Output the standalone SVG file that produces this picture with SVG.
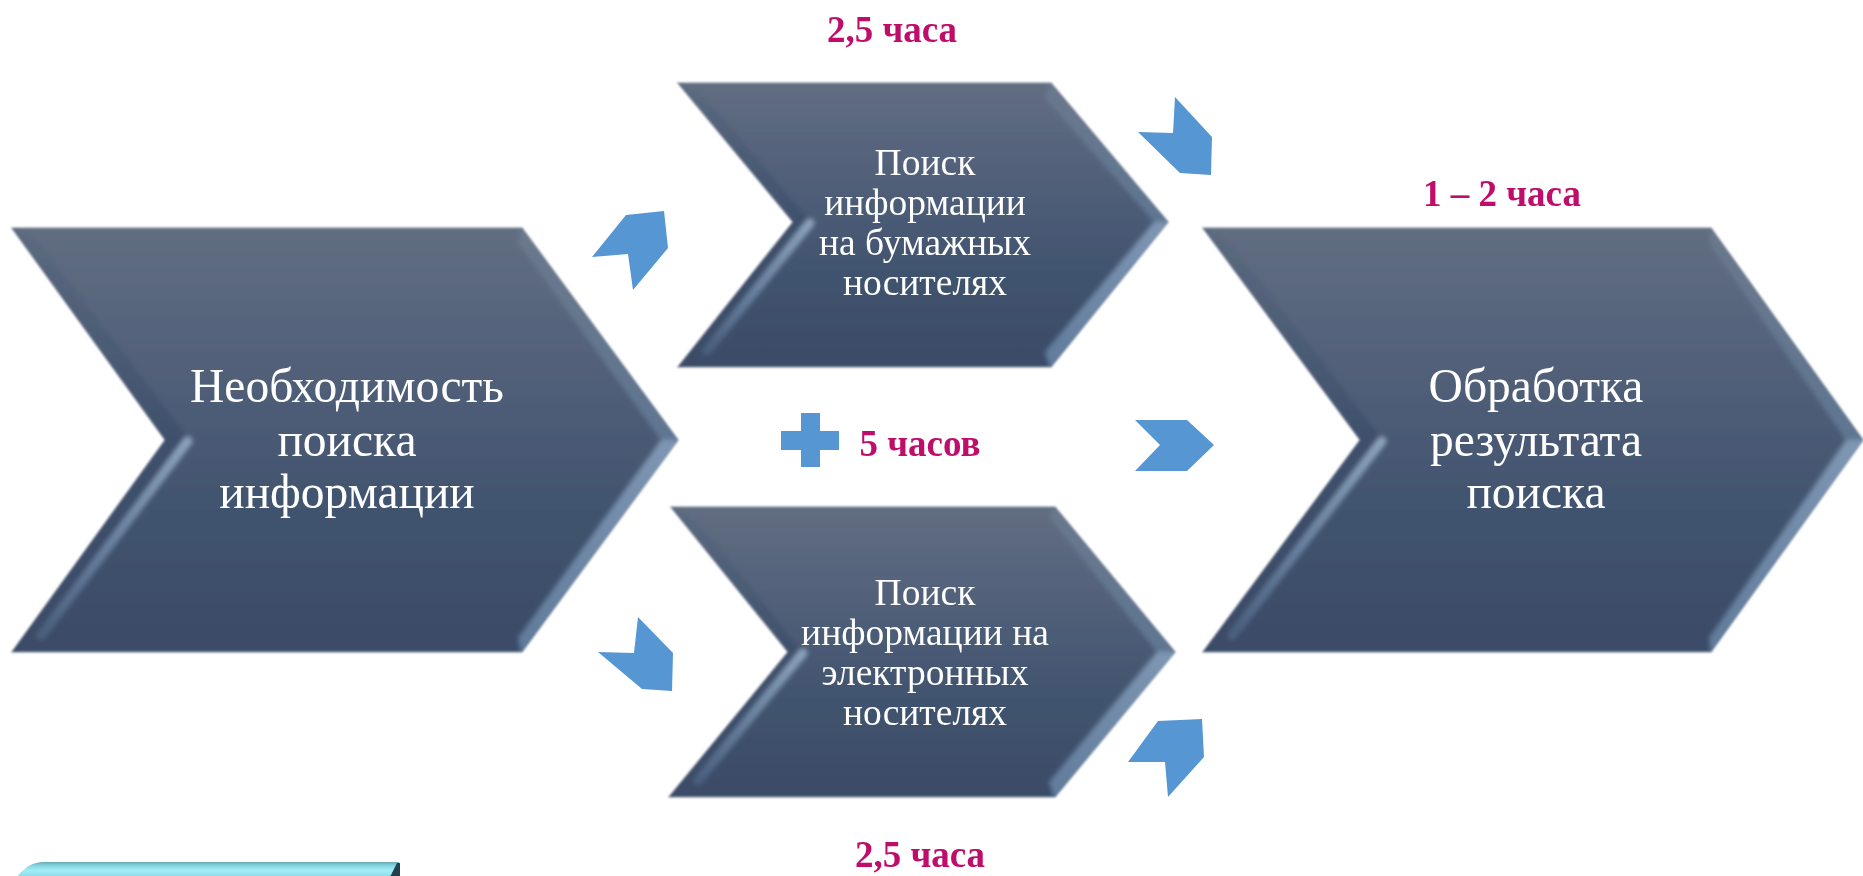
<svg xmlns="http://www.w3.org/2000/svg" width="1863" height="876" viewBox="0 0 1863 876">
<style>
.body{fill:url(#g);stroke:#7f8b9c;stroke-width:1.2}
.tr{fill:url(#gtr)}
.br{fill:url(#gbr)}
.tl{fill:url(#gtl)}
.bl{fill:url(#gdk)}
.hl{fill:none;stroke:url(#ghl);stroke-width:9;stroke-linecap:round}
.arrow{fill:#5496D3}
text{font-family:"Liberation Serif","Times New Roman",serif;text-anchor:middle}
.n{fill:#fff}
.big{font-size:47.5px}
.mid{font-size:37.5px}
.t{fill:#BE0B6A;font-weight:bold;font-size:37px}
</style>
<defs>
<linearGradient id="g" x1="0" y1="0" x2="0" y2="1"><stop offset="0" stop-color="#616e81"/><stop offset=".35" stop-color="#515f79"/><stop offset=".65" stop-color="#42546f"/><stop offset="1" stop-color="#3a4b67"/></linearGradient>
<linearGradient id="gtr" x1="0" y1="0" x2="0" y2="1"><stop offset="0" stop-color="#6b788b"/><stop offset="1" stop-color="#5f7692"/></linearGradient>
<linearGradient id="gbr" x1="0" y1="0" x2="0" y2="1"><stop offset="0" stop-color="#7e97b3"/><stop offset="1" stop-color="#5f7a9a"/></linearGradient>
<linearGradient id="gtl" x1="0" y1="0" x2="0" y2="1"><stop offset="0" stop-color="#5d6b80"/><stop offset="1" stop-color="#3f506c"/></linearGradient>
<linearGradient id="gdk" x1="0" y1="0" x2="0" y2="1"><stop offset="0" stop-color="#3f506c"/><stop offset="1" stop-color="#3b4c68"/></linearGradient>
<linearGradient id="ghl" gradientUnits="objectBoundingBox" x1="0" y1="0" x2="0" y2="1"><stop offset="0" stop-color="#8da3bc"/><stop offset=".6" stop-color="#657d9b"/><stop offset="1" stop-color="#4b5f7d"/></linearGradient>
<linearGradient id="box" x1="0" y1="0" x2="0" y2="1"><stop offset="0" stop-color="#6aa7b3"/><stop offset=".22" stop-color="#7fd3e2"/><stop offset=".55" stop-color="#a5edf6"/><stop offset="1" stop-color="#86dcec"/></linearGradient>
<filter id="soft" x="-2%" y="-2%" width="104%" height="104%"><feGaussianBlur stdDeviation="0.8"/></filter>
<filter id="edge" x="-5%" y="-5%" width="110%" height="110%"><feGaussianBlur stdDeviation="2.2"/></filter>
<filter id="txt" x="-5%" y="-5%" width="110%" height="110%"><feGaussianBlur stdDeviation="0.5"/></filter>
<clipPath id="c1"><polygon points="12,228 522,228 678,440 522,652 12,652 165,440"/></clipPath>
<clipPath id="c2"><polygon points="678,83 1051,83 1168,222 1051,367 678,367 793,222"/></clipPath>
<clipPath id="c3"><polygon points="671,507 1055,507 1175,652 1055,797 669,797 788,652"/></clipPath>
<clipPath id="c4"><polygon points="1203,228 1711,228 1863,440 1711,652 1203,652 1360,440"/></clipPath>
</defs>

<g id="connectors" filter="url(#txt)">
<polygon class="arrow" points="664,211 668,248 633,290 628,254 592,257 626,215"/>
<polygon class="arrow" points="1175,97 1212,137 1211,175 1180,173 1138,132 1173,133"/>
<polygon class="arrow" points="638,617 673,653 672,691 642,689 598,652 634,653"/>
<polygon class="arrow" points="1202,719 1204,757 1168,797 1165,762 1128,762 1158,721"/>
<polygon class="arrow" points="1135,420 1187,420 1214,445 1187,471 1135,471 1160,445"/>
</g>

<g id="node-need">
<g filter="url(#soft)">
<polygon class="body" points="12,228 522,228 678,440 522,652 12,652 165,440"/>
<g clip-path="url(#c1)"><g filter="url(#edge)">
<polygon class="tr" points="522,222 688,440 661,440 518,243"/>
<polygon class="br" points="688,440 522,658 518,638 661,440"/>
<polygon class="tl" points="5,222 165,440 190,440 40,243"/>
<polygon class="bl" points="165,440 5,658 40,638 190,440"/>
<polyline class="hl" points="188,441 41,636"/>
</g></g>
</g>
<g filter="url(#txt)">
<text class="n big" x="347" y="402">Необходимость</text>
<text class="n big" x="347" y="456">поиска</text>
<text class="n big" x="347" y="508">информации</text>
</g>
</g>

<g id="node-paper">
<g filter="url(#soft)">
<polygon class="body" points="678,83 1051,83 1168,222 1051,367 678,367 793,222"/>
<g clip-path="url(#c2)"><g filter="url(#edge)">
<polygon class="tr" points="1051,78 1178,222 1154,222 1045,98"/>
<polygon class="br" points="1178,222 1051,372 1045,352 1154,222"/>
<polygon class="tl" points="672,78 793,222 811,222 706,98"/>
<polygon class="bl" points="793,222 672,372 706,352 811,222"/>
<polyline class="hl" points="810,223 707,351"/>
</g></g>
</g>
<g filter="url(#txt)">
<text class="n mid" x="925" y="175">Поиск</text>
<text class="n mid" x="925" y="215">информации</text>
<text class="n mid" x="925" y="255">на бумажных</text>
<text class="n mid" x="925" y="295">носителях</text>
</g>
</g>

<g id="node-electronic">
<g filter="url(#soft)">
<polygon class="body" points="671,507 1055,507 1175,652 1055,797 669,797 788,652"/>
<g clip-path="url(#c3)"><g filter="url(#edge)">
<polygon class="tr" points="1055,502 1185,652 1157,652 1050,518"/>
<polygon class="br" points="1185,652 1055,802 1049,782 1157,652"/>
<polygon class="tl" points="665,502 788,652 803,652 698,522"/>
<polygon class="bl" points="788,652 663,802 697,782 803,652"/>
<polyline class="hl" points="803,653 698,781"/>
</g></g>
</g>
<g filter="url(#txt)">
<text class="n mid" x="925" y="605">Поиск</text>
<text class="n mid" x="925" y="645">информации на</text>
<text class="n mid" x="925" y="685">электронных</text>
<text class="n mid" x="925" y="725">носителях</text>
</g>
</g>

<g id="node-result">
<g filter="url(#soft)">
<polygon class="body" points="1203,228 1711,228 1863,440 1711,652 1203,652 1360,440"/>
<g clip-path="url(#c4)"><g filter="url(#edge)">
<polygon class="tr" points="1711,222 1873,440 1846,440 1709,243"/>
<polygon class="br" points="1873,440 1711,658 1709,638 1846,440"/>
<polygon class="tl" points="1196,222 1360,440 1383,440 1231,243"/>
<polygon class="bl" points="1360,440 1196,658 1231,638 1383,440"/>
<polyline class="hl" points="1382,441 1232,636"/>
</g></g>
</g>
<g filter="url(#txt)">
<text class="n big" x="1536" y="402">Обработка</text>
<text class="n big" x="1536" y="456">результата</text>
<text class="n big" x="1536" y="508">поиска</text>
</g>
</g>

<g id="plus" filter="url(#txt)">
<polygon class="arrow" points="801,413 820,413 820,431 839,431 839,450 820,450 820,467 801,467 801,450 781,450 781,431 801,431"/>
</g>
<g id="times" filter="url(#txt)">
<text class="t" x="892" y="42">2,5 часа</text>
<text class="t" x="1502" y="206">1 – 2 часа</text>
<text class="t" x="920" y="456">5 часов</text>
<text class="t" x="920" y="867">2,5 часа</text>
</g>
<g id="button">
<path d="M17,877 Q28,862 44,862 L399,862 L399,877 Z" fill="url(#box)" filter="url(#txt)"/>
<polygon points="390,877 397,863 400,863 400,877" fill="#24404c" filter="url(#txt)"/>
</g>
</svg>
